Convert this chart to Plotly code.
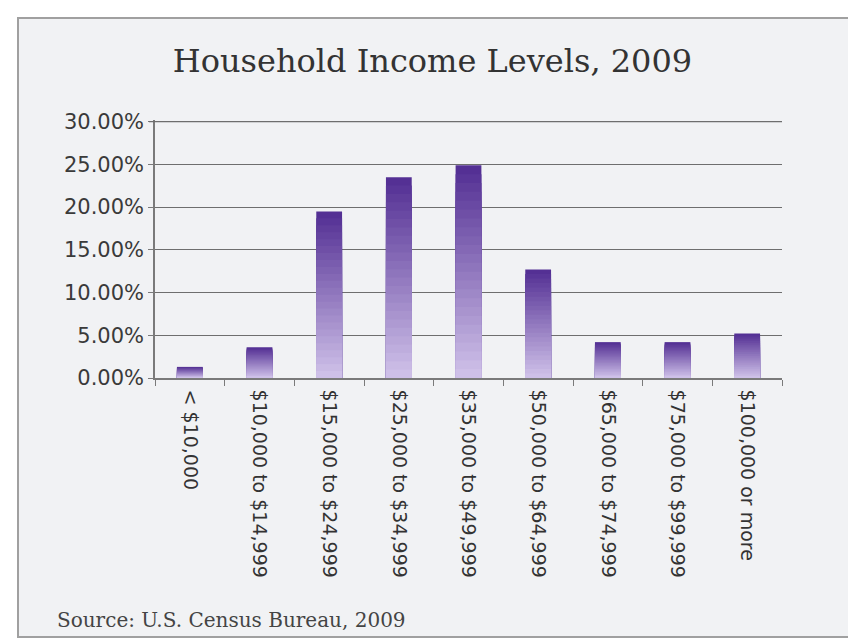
import plotly.graph_objects as go

categories = ["< $10,000", "$10,000 to $14,999", "$15,000 to $24,999", "$25,000 to $34,999",
              "$35,000 to $49,999", "$50,000 to $64,999", "$65,000 to $74,999",
              "$75,000 to $99,999", "$100,000 or more"]
shares = [0.013, 0.036, 0.195, 0.235, 0.249, 0.127, 0.042, 0.042, 0.052]
y_ticks = [0, 0.05, 0.10, 0.15, 0.20, 0.25, 0.30]

top_rgb = (84, 48, 148)
bot_rgb = (206, 192, 232)

W, H = 848, 639
L, R, T, B = 155, 66, 120, 261
PW, PH = W - L - R, H - T - B

fig = go.Figure()
N = 24
for i in range(N):
    f = 1 - i / N
    t = i / (N - 1)
    c = tuple(int(round(top_rgb[k] + (bot_rgb[k] - top_rgb[k]) * t)) for k in range(3))
    fig.add_trace(go.Bar(
        x=categories, y=[v * f for v in shares],
        marker=dict(color="rgb(%d,%d,%d)" % c, line=dict(width=0)),
        hoverinfo="skip", showlegend=False))

fig.update_layout(
    barmode="overlay", bargap=0.63,
    width=W, height=H,
    margin=dict(l=L, r=R, t=T, b=B),
    paper_bgcolor="white", plot_bgcolor="rgba(0,0,0,0)",
    title=dict(text="Household Income Levels, 2009", x=0.51, xanchor="center",
               y=0.905, yanchor="middle",
               font=dict(family="DejaVu Serif", size=32, color="#333333")),
    shapes=[dict(type="rect", xref="paper", yref="paper", layer="below",
                 x0=(18 - L) / PW, x1=(852 - L) / PW,
                 y0=-(B - 2) / PH, y1=(H - 18 - B) / PH,
                 fillcolor="#f1f2f4", line=dict(color="#a0a0a0", width=2)),
            dict(type="line", xref="paper", yref="y", x0=-6 / PW, x1=1, y0=0.30, y1=0.30,
                 line=dict(color="#6e6e6e", width=1.2))],
    annotations=[dict(text="Source: U.S. Census Bureau, 2009", xref="paper", yref="paper",
                      x=(55 - L) / PW, y=-(620 - (H - B)) / PH, xanchor="left", yanchor="middle",
                      showarrow=False,
                      font=dict(family="DejaVu Serif", size=20, color="#444444"))],
    font=dict(family="DejaVu Sans", color="#3a3a3a"),
)
fig.update_xaxes(tickangle=90, tickfont=dict(size=19, color="#333333"),
                 showline=True, linecolor="#7a7a7a", linewidth=1.5,
                 ticks="outside", ticklen=6, tickcolor="#7a7a7a", tickson="boundaries",
                 ticklabelstandoff=6, showgrid=False)
fig.update_yaxes(range=[0, 0.302], tickvals=y_ticks, tickformat=".2%",
                 tickfont=dict(size=21, color="#3a3a3a"),
                 showgrid=True, gridcolor="#6e6e6e", gridwidth=1.2,
                 showline=True, linecolor="#7a7a7a", linewidth=1.5,
                 ticks="outside", ticklen=5, tickcolor="#7a7a7a", zeroline=False)
fig.write_html("out.html")
